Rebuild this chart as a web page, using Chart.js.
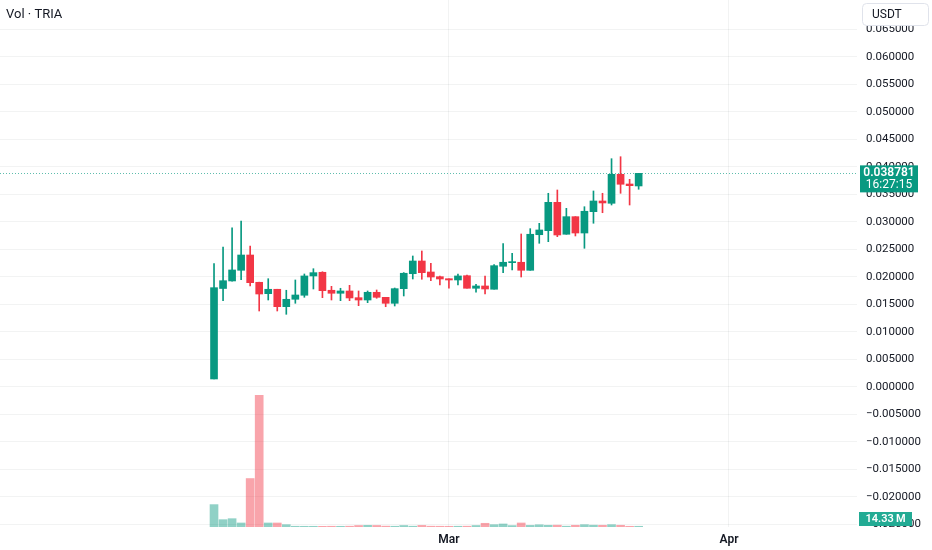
<!DOCTYPE html>
<html lang="en">
<head>
<meta charset="UTF-8" />
<title>Vol · TRIA</title>
<script src="https://cdn.jsdelivr.net/npm/chart.js@4"></script>
<style>
  body { margin: 0; background: #ffffff; }
  #wrap { width: 932px; height: 550px; }
</style>
</head>
<body>
<div id="wrap"><canvas id="chart" width="932" height="550"></canvas></div>
<script>
  // daily candles, index 0 = Feb 3
  const opens = [0.0014, 0.01785, 0.01922, 0.02116, 0.02394, 0.01898, 0.01691, 0.01771, 0.01455, 0.01589,
                 0.01662, 0.02013, 0.0208, 0.01753, 0.01698, 0.0174, 0.01618, 0.01576, 0.01716, 0.01625,
                 0.01516, 0.01782, 0.02054, 0.02285, 0.02085, 0.02, 0.01963, 0.0194, 0.02018, 0.01789,
                 0.01831, 0.01771, 0.02189, 0.02255, 0.02262, 0.02116, 0.02763, 0.02836, 0.03352, 0.02771,
                 0.03091, 0.02794, 0.03182, 0.03376, 0.03334, 0.03861, 0.03685, 0.03649];
  const highs = [0.0224, 0.0254, 0.0289, 0.03012, 0.02558, 0.019, 0.01963, 0.01771, 0.01753, 0.0194,
                 0.02049, 0.02145, 0.0209, 0.01825, 0.01789, 0.01843, 0.0174, 0.0174, 0.01758, 0.01625,
                 0.01794, 0.02074, 0.02376, 0.02467, 0.02243, 0.0201, 0.01963, 0.02049, 0.0203, 0.01862,
                 0.02013, 0.02218, 0.026, 0.02425, 0.02776, 0.02873, 0.0297, 0.03516, 0.03576, 0.03243,
                 0.03091, 0.03272, 0.03558, 0.03516, 0.04145, 0.04181, 0.0377, 0.03878];
  const lows = [0.0014, 0.01564, 0.0192, 0.01945, 0.01831, 0.01376, 0.01576, 0.01376, 0.01316, 0.01516,
                0.01625, 0.01776, 0.01618, 0.01576, 0.01564, 0.01564, 0.01473, 0.01527, 0.01607, 0.01454,
                0.01467, 0.01649, 0.01958, 0.01953, 0.01927, 0.01849, 0.01789, 0.01849, 0.01789, 0.01716,
                0.01685, 0.01771, 0.02073, 0.02122, 0.01994, 0.02116, 0.02607, 0.02636, 0.02727, 0.02771,
                0.0274, 0.02516, 0.02971, 0.03163, 0.03303, 0.03516, 0.03303, 0.03589];
  const closes = [0.018, 0.01927, 0.02122, 0.02394, 0.01891, 0.01685, 0.01771, 0.01455, 0.01589, 0.01667,
                  0.02013, 0.02073, 0.01745, 0.01698, 0.0174, 0.01613, 0.01576, 0.01716, 0.01625, 0.01516,
                  0.01782, 0.02062, 0.02285, 0.02073, 0.01994, 0.01958, 0.0194, 0.02013, 0.01789, 0.01831,
                  0.01776, 0.022, 0.02262, 0.02262, 0.02116, 0.02771, 0.02849, 0.03352, 0.02758, 0.03091,
                  0.02794, 0.03189, 0.03376, 0.0334, 0.03861, 0.0368, 0.03654, 0.038781];
  // volume in millions
  const volumes = [446, 146, 166, 80, 966, 2626, 80, 80, 46, 15,
                   14, 14, 13, 15, 14, 16, 30, 33, 31, 17,
                   15, 30, 16, 32, 16, 15, 14, 15, 16, 30,
                   74, 46, 60, 28, 80, 32, 44, 34, 36, 16,
                   34, 46, 36, 34, 46, 34, 14, 14.33];

  const monthTicks = [26, 57];
  const monthLabels = ['Mar', 'Apr'];
  const priceTicks = [-0.025, -0.02, -0.015, -0.01, -0.005, 0, 0.005, 0.01, 0.015, 0.02,
                      0.025, 0.03, 0.035, 0.04, 0.045, 0.05, 0.055, 0.06, 0.065];
  const countdown = '16:27:15';

  const UP = '#089981', DOWN = '#F23645';
  const isUp = closes.map((c, i) => c >= opens[i]);
  const candleColors = isUp.map(u => u ? UP : DOWN);
  const volColors = isUp.map(u => u ? 'rgba(8,153,129,0.45)' : 'rgba(242,54,69,0.45)');

  const bodies = opens.map((o, i) => ({ x: i, y: [o, closes[i]] }));
  const wicks = lows.map((l, i) => ({ x: i, y: [l, highs[i]] }));
  const vols = volumes.map((v, i) => ({ x: i, y: v }));

  const TEXT = '#131722';
  const GRID = 'rgba(42,46,57,0.06)';

  function roundRect(ctx, x, y, w, h, r) {
    ctx.beginPath();
    ctx.moveTo(x + r, y);
    ctx.lineTo(x + w - r, y);
    ctx.quadraticCurveTo(x + w, y, x + w, y + r);
    ctx.lineTo(x + w, y + h - r);
    ctx.quadraticCurveTo(x + w, y + h, x + w - r, y + h);
    ctx.lineTo(x + r, y + h);
    ctx.quadraticCurveTo(x, y + h, x, y + h - r);
    ctx.lineTo(x, y + r);
    ctx.quadraticCurveTo(x, y, x + r, y);
    ctx.closePath();
  }

  const overlay = {
    id: 'overlay',
    beforeDatasetsDraw(chart) {
      const { ctx, chartArea: a, scales } = chart;
      const py = Math.round(scales.y.getPixelForValue(closes[closes.length - 1])) + 0.5;
      ctx.save();
      ctx.strokeStyle = 'rgba(8,153,129,0.65)';
      ctx.lineWidth = 1;
      ctx.setLineDash([1, 2]);
      ctx.beginPath();
      ctx.moveTo(a.left, py);
      ctx.lineTo(a.right, py);
      ctx.stroke();
      ctx.restore();
    },
    afterDraw(chart) {
      const { ctx, chartArea: a, scales } = chart;
      const last = closes.length - 1;
      ctx.save();
      ctx.textBaseline = 'middle';

      // pane title
      ctx.fillStyle = TEXT;
      ctx.textAlign = 'left';
      ctx.font = '13px Roboto';
      ctx.fillText('Vol · TRIA', 6, 15);

      // currency box
      roundRect(ctx, 862.5, 3.5, 66, 22, 4);
      ctx.fillStyle = '#ffffff';
      ctx.fill();
      ctx.strokeStyle = '#e0e3eb';
      ctx.stroke();
      ctx.fillStyle = TEXT;
      ctx.font = '12px Roboto';
      ctx.fillText('USDT', 872, 15);

      // last price label
      const py = scales.y.getPixelForValue(closes[last]);
      ctx.fillStyle = UP;
      ctx.fillRect(a.right + 3, py - 8, 58, 27);
      ctx.fillStyle = '#ffffff';
      ctx.textAlign = 'center';
      ctx.font = '600 12px Roboto';
      ctx.fillText(closes[last].toFixed(6), a.right + 32, py);
      ctx.font = '12px Roboto';
      ctx.fillText(countdown, a.right + 32, py + 12);

      // last volume label
      const vy = Math.min(scales.yv.getPixelForValue(volumes[last]), a.bottom - 8);
      ctx.fillStyle = '#22ab94';
      ctx.fillRect(a.right + 2, vy - 7, 53, 14);
      ctx.fillStyle = '#ffffff';
      ctx.font = '600 11px Roboto';
      ctx.fillText(volumes[last].toFixed(2) + '\u2009M', a.right + 28.5, vy + 0.5);
      ctx.restore();
    }
  };

  new Chart(document.getElementById('chart'), {
    type: 'bar',
    data: {
      datasets: [
        {
          data: vols,
          yAxisID: 'yv',
          backgroundColor: volColors,
          barThickness: 8,
          grouped: false,
          order: 3
        },
        {
          data: wicks,
          yAxisID: 'y',
          backgroundColor: candleColors,
          barThickness: 1,
          grouped: false,
          order: 2
        },
        {
          data: bodies,
          yAxisID: 'y',
          backgroundColor: candleColors,
          barThickness: 7,
          minBarLength: 1,
          grouped: false,
          order: 1
        }
      ]
    },
    options: {
      responsive: false,
      animation: false,
      layout: { padding: 0 },
      plugins: {
        legend: { display: false },
        tooltip: { enabled: false }
      },
      scales: {
        x: {
          type: 'linear',
          offset: false,
          min: -23.69,
          max: 71.17,
          grid: { color: GRID, drawTicks: false, offset: false },
          border: { display: false },
          afterBuildTicks: s => { s.ticks = monthTicks.map(v => ({ value: v })); },
          afterFit: s => { s.height = 23; s.paddingLeft = 0; s.paddingRight = 0; },
          ticks: {
            autoSkip: false,
            maxRotation: 0,
            padding: 6,
            color: TEXT,
            font: { family: 'Roboto', size: 12, weight: '600' },
            callback: (v, i) => monthLabels[i]
          }
        },
        y: {
          position: 'right',
          min: -0.02551,
          max: 0.07030,
          grid: { color: GRID, drawTicks: false },
          border: { display: false },
          afterBuildTicks: s => { s.ticks = priceTicks.map(v => ({ value: v })); },
          afterFit: s => { s.width = 75; s.paddingTop = 0; s.paddingBottom = 0; },
          ticks: {
            autoSkip: false,
            padding: 9,
            color: TEXT,
            font: { family: 'Roboto', size: 11.5 },
            callback: v => (v < 0 ? '\u2212' : '') + Math.abs(v).toFixed(6)
          }
        },
        yv: {
          display: false,
          min: 0,
          max: Math.max(...volumes) * 4
        }
      }
    },
    plugins: [overlay]
  });
</script>
</body>
</html>
